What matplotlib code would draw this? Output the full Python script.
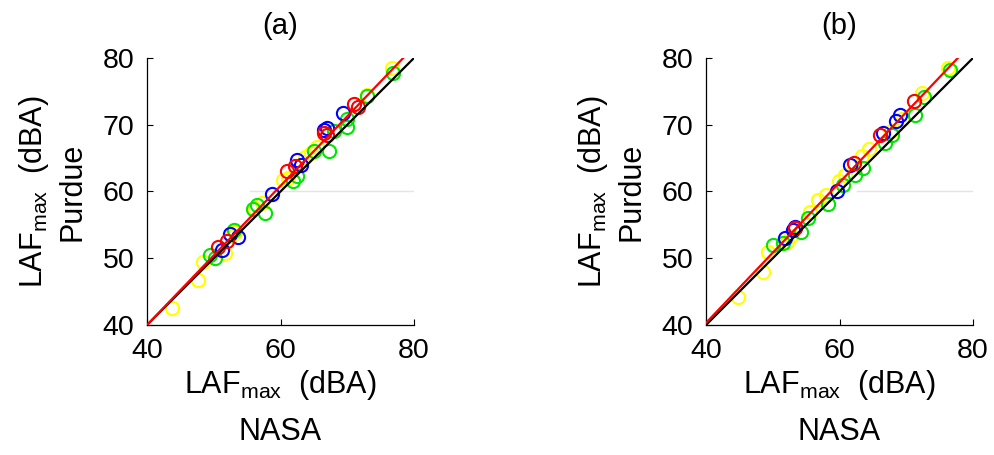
import matplotlib
matplotlib.use("Agg")
import matplotlib.pyplot as plt
import numpy as np

plt.rcParams['font.family'] = ['Liberation Sans', 'DejaVu Sans']
plt.rcParams['mathtext.fontset'] = 'custom'
plt.rcParams['mathtext.rm'] = 'Liberation Sans'
plt.rcParams['mathtext.it'] = 'Liberation Sans'

# LAFmax per event: NASA (x) vs Purdue (y), grouped by series colour
a_blue_x = [51.2, 52.4, 53.6, 58.7, 62.4, 66.5, 66.9, 69.4, 63.0]
a_blue_y = [51.2, 53.7, 53.2, 59.7, 64.7, 69.2, 69.5, 71.8, 64.0]
a_red_x = [50.7, 60.9, 62.1, 66.9, 66.5, 71.0, 71.6, 52.0]
a_red_y = [51.7, 63.0, 63.8, 68.4, 68.7, 73.1, 72.7, 52.6]
a_green_x = [49.4, 50.2, 53.0, 55.9, 57.7, 61.9, 62.5, 65.0, 67.2, 69.9, 70.0, 73.0, 76.8, 56.5, 68.0]
a_green_y = [50.5, 50.0, 54.2, 57.4, 56.8, 61.5, 62.3, 66.0, 66.0, 69.7, 70.8, 74.3, 77.8, 58.0, 69.0]
a_yellow_x = [43.7, 47.7, 48.4, 51.7, 53.2, 56.0, 57.2, 60.4, 61.1, 63.6, 65.4, 72.9, 76.7, 64.5, 52.6]
a_yellow_y = [42.5, 46.7, 49.5, 50.8, 54.0, 57.6, 58.3, 61.7, 62.0, 65.2, 66.7, 74.5, 78.5, 65.8, 53.4]

b_blue_x = [51.8, 53.3, 59.6, 61.6, 66.5, 69.1, 68.4, 53.0]
b_blue_y = [53.0, 54.7, 60.0, 64.0, 68.7, 71.5, 70.5, 54.2]
b_red_x = [53.3, 62.1, 66.1, 71.1]
b_red_y = [54.5, 64.2, 68.5, 73.5]
b_green_x = [50.1, 54.3, 55.3, 58.3, 62.3, 63.5, 66.8, 67.8, 71.3, 72.6, 76.6, 60.5, 51.5]
b_green_y = [52.0, 54.0, 56.0, 58.2, 62.5, 63.5, 67.2, 68.4, 71.5, 74.2, 78.2, 61.0, 52.3]
b_yellow_x = [44.8, 48.6, 49.3, 52.1, 52.8, 55.6, 56.8, 59.9, 60.8, 63.3, 64.4, 67.7, 69.4, 72.3, 76.3, 58.0]
b_yellow_y = [44.2, 48.0, 51.0, 52.5, 53.3, 57.0, 58.7, 61.6, 62.5, 65.3, 66.3, 69.1, 70.8, 74.7, 78.5, 59.5]

# linear fit (slope, intercept) for each panel
fit_a = [1.042, -1.68]
fit_b = [1.052, -1.77]

titles = ['(a)', '(b)']
ticks_x = [40, 60, 80]
ticks_y = [40, 50, 60, 70, 80]
ylab = 'LAF$_{\\mathregular{max}}$  (dBA)\nPurdue'
xlab = 'LAF$_{\\mathregular{max}}$  (dBA)\nNASA'

colors = {'yellow': '#ffff00', 'green': '#00e600', 'blue': '#0000ff', 'red': '#ff0000'}

panels = [
    dict(series=[('yellow', a_yellow_x, a_yellow_y), ('green', a_green_x, a_green_y),
                 ('blue', a_blue_x, a_blue_y), ('red', a_red_x, a_red_y)],
         fit=fit_a, title=titles[0], left=147, faint=(55.4, 60.0)),
    dict(series=[('yellow', b_yellow_x, b_yellow_y), ('green', b_green_x, b_green_y),
                 ('blue', b_blue_x, b_blue_y), ('red', b_red_x, b_red_y)],
         fit=fit_b, title=titles[1], left=706, faint=(62.6, 60.0)),
]

W, H = 995, 455
fig = plt.figure(figsize=(W / 100, H / 100), dpi=100)

for p in panels:
    ax = fig.add_axes([p['left'] / W, (H - 325) / H, 267 / W, 267 / H])
    # faint reference line at 60 dBA
    ax.plot([p['faint'][0], 80], [p['faint'][1], p['faint'][1]], color='#e4e4e4', lw=1, zorder=0)
    for name, xs, ys in p['series']:
        ax.plot(xs, ys, linestyle='none', marker='o', ms=9.5, mfc='none',
                mec=colors[name], mew=1.5, zorder=2)
    # identity line
    ax.plot([40, 80], [40, 80], color='black', lw=1.6, zorder=3)
    # fitted line, drawn until it reaches the top of the plot
    m, c = p['fit']
    x_end = (80 - c) / m
    ax.plot([40, x_end], [m * 40 + c, 80], color='red', lw=1.6, zorder=4)

    ax.set_xlim(40, 80)
    ax.set_ylim(40, 80)
    ax.set_xticks(ticks_x)
    ax.set_yticks(ticks_y)
    ax.tick_params(direction='in', length=4, width=0.8, labelsize=20.5, pad=9)
    for s in ['top', 'right']:
        ax.spines[s].set_visible(False)
    for s in ['left', 'bottom']:
        ax.spines[s].set_linewidth(0.9)
    ax.set_title(p['title'], fontsize=21, pad=17)
    ax.set_xlabel(xlab, fontsize=22, labelpad=3, linespacing=1.65)
    ax.set_ylabel(ylab, fontsize=22, labelpad=11, linespacing=1.3)

fig.savefig('out.png', dpi=100)
